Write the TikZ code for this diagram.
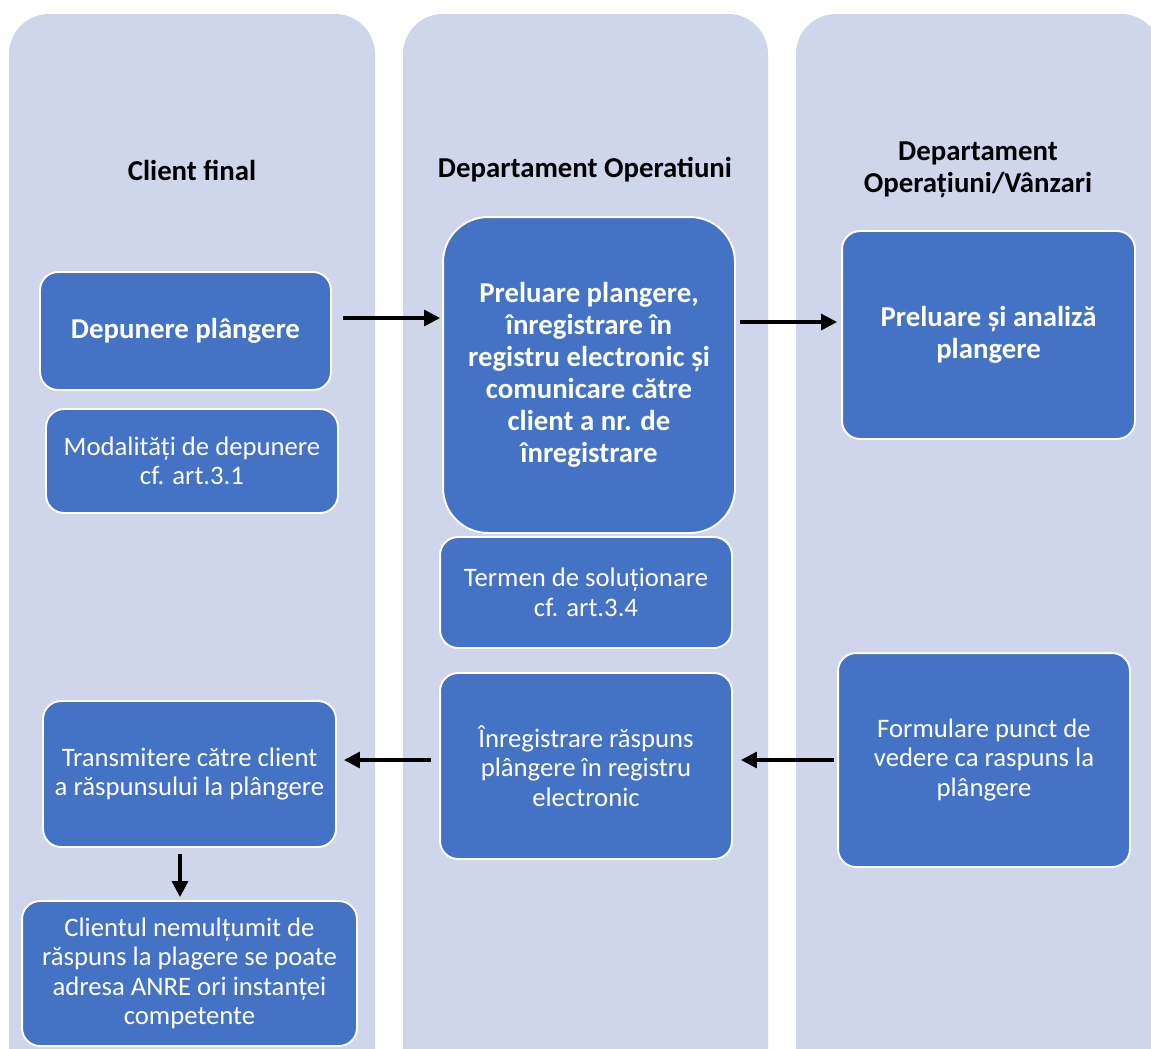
\documentclass[tikz,border=0pt]{standalone}
\usepackage{fontspec}
\setmainfont{Carlito}
\usepackage{tikz}
\usetikzlibrary{arrows.meta}
\definecolor{lanefill}{HTML}{CFD5EA}
\definecolor{boxfill}{HTML}{4472C4}
\begin{document}
\begin{tikzpicture}[x=0.02cm,y=-0.02cm,
	lane/.style = {fill=lanefill, rounded corners=0.8cm},
	title/.style = {align=center, font=\fontsize{16.4}{18.2}\selectfont\bfseries},
	box/.style = {draw=white, line width=1.1pt, fill=boxfill, rounded corners=0.36cm, align=center, text=white, inner sep=0pt, font=\fontsize{15.2}{16.8}\selectfont},
	boldbox/.style = {box, font=\fontsize{16.4}{18.2}\selectfont\bfseries},
	arr/.style = {line width=1.8pt, -{Triangle[length=0.32cm,width=0.32cm]}}]
	\useasboundingbox (0,0) rectangle (1151,1048);
	\clip (0,0) rectangle (1151,1048);
	% swimlanes
	\fill[lane] (9,14) rectangle (375,1110);
	\fill[lane] (403,14) rectangle (768,1110);
	\fill[lane] (796,14) rectangle (1161,1110);
	\node[title] (t1) at (192,170) {Client final};
	\node[title] (t2) at (585,170) {Departament Operatiuni};
	\node[title] (t3) at (978,170) {Departament\\Operațiuni/Vânzari};
	% steps
	\node[boldbox, minimum width=5.82cm, minimum height=2.36cm] (dep) at (185.5,331) {Depunere plângere};
	\node[box, minimum width=5.84cm, minimum height=2.08cm] (modal) at (192,461) {Modalități de depunere\\cf. art.3.1};
	\node[boldbox, rounded corners=0.9cm, minimum width=5.84cm, minimum height=6.32cm] (prel) at (589,375) {Preluare plangere,\\înregistrare în\\registru electronic și\\comunicare către\\client a nr. de\\înregistrare};
	\node[box, minimum width=5.84cm, minimum height=2.22cm] (termen) at (586,592.5) {Termen de soluționare\\cf. art.3.4};
	\node[box, minimum width=5.84cm, minimum height=3.72cm] (inreg) at (586,766) {Înregistrare răspuns\\plângere în registru\\electronic};
	\node[boldbox, minimum width=5.86cm, minimum height=4.16cm] (analiza) at (988.5,335) {Preluare și analiză\\plangere};
	\node[box, minimum width=5.84cm, minimum height=4.28cm] (formul) at (984,760) {Formulare punct de\\vedere ca raspuns la\\plângere};
	\node[box, minimum width=5.86cm, minimum height=2.92cm] (transm) at (189.5,774) {Transmitere către client\\a răspunsului la plângere};
	\node[box, minimum width=6.7cm, minimum height=2.9cm] (nemult) at (189.5,973.5) {Clientul nemulțumit de\\răspuns la plagere se poate\\adresa ANRE ori instanței\\competente};
	% flow
	\draw[arr] ([xshift=0.22cm,yshift=0.26cm]dep.east) -- ([xshift=-0.04cm,yshift=0.26cm]dep.east -| prel.west);
	\draw[arr] ([xshift=0.08cm,yshift=1.06cm]prel.east) -- ([xshift=-0.08cm,yshift=1.06cm]prel.east -| analiza.west);
	\draw[arr] ([xshift=-0.06cm]formul.west) -- ([xshift=0.16cm]formul.west -| inreg.east);
	\draw[arr] ([xshift=-0.16cm,yshift=0.12cm]inreg.west) -- ([xshift=0.14cm,yshift=0.12cm]inreg.west -| transm.east);
	\draw[arr] ([xshift=-0.19cm,yshift=-0.12cm]transm.south) -- ([xshift=-0.19cm,yshift=0.06cm]nemult.north);
\end{tikzpicture}
\end{document}
